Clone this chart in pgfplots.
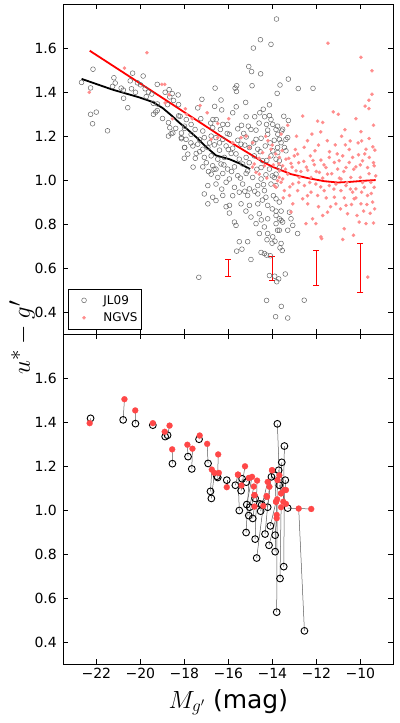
\documentclass[border=0pt]{standalone}
\usepackage{fontspec}
\setmainfont{DejaVu Sans}
\usepackage{pgfplots}
\usepackage{pgfplotstable}
\pgfplotsset{compat=1.18}

% JL09 colours (top panel)
\pgfplotstableread{
x y
-22.67 1.445
-22.15 1.505
-22.26 1.420
-22.26 1.300
-22.00 1.310
-22.17 1.257
-21.49 1.225
-21.20 1.466
-21.14 1.442
-21.26 1.427
-20.87 1.419
-20.77 1.410
-20.76 1.373
-20.57 1.330
-20.35 1.487
-20.46 1.452
-20.22 1.400
-20.40 1.416
-20.13 1.443
-19.99 1.434
-19.87 1.474
-19.78 1.416
-19.63 1.401
-19.48 1.392
-19.73 1.380
-19.23 1.436
-19.41 1.350
-19.22 1.347
-19.40 1.300
-19.30 1.310
-19.23 1.317
-18.99 1.281
-18.87 1.400
-18.76 1.344
-18.69 1.412
-18.66 1.379
-18.55 1.394
-18.49 1.363
-18.72 1.262
-18.66 1.239
-18.60 1.212
-18.72 1.201
-18.52 1.215
-18.39 1.236
-18.13 1.215
-18.13 1.189
-18.28 1.388
-18.26 1.344
-18.19 1.291
-18.26 1.293
-17.99 1.236
-17.98 1.149
-13.81 1.733
-14.54 1.639
-14.06 1.618
-14.86 1.601
-15.07 1.517
-14.94 1.494
-14.53 1.484
-15.62 1.430
-15.69 1.419
-15.63 1.404
-14.92 1.430
-16.60 1.419
-13.65 1.433
-13.78 1.395
-17.20 1.368
-16.33 1.365
-15.21 1.354
-14.13 1.343
-16.62 1.336
-15.64 1.334
-17.39 1.329
-16.30 1.320
-14.41 1.323
-15.80 1.307
-14.57 1.307
-13.48 1.291
-15.19 1.289
-14.80 1.289
-14.35 1.289
-14.13 1.294
-14.06 1.276
-16.70 1.276
-16.55 1.276
-16.25 1.254
-16.03 1.254
-15.09 1.246
-14.26 1.254
-13.98 1.254
-13.76 1.246
-15.57 1.234
-14.74 1.228
-14.21 1.228
-13.57 1.224
-17.91 1.276
-17.69 1.254
-17.51 1.231
-17.99 1.246
-17.16 1.224
-16.36 1.231
-16.05 1.213
-15.30 1.213
-16.71 1.239
-14.97 1.231
-13.83 1.231
-18.14 1.194
-17.92 1.186
-17.69 1.209
-17.31 1.186
-17.09 1.194
-16.78 1.201
-16.56 1.194
-16.25 1.186
-15.95 1.209
-15.57 1.182
-15.19 1.197
-14.74 1.186
-14.51 1.191
-14.21 1.209
-13.91 1.182
-13.68 1.186
-17.99 1.149
-17.61 1.156
-17.39 1.164
-17.16 1.141
-16.93 1.149
-16.63 1.161
-16.40 1.137
-16.10 1.156
-15.80 1.146
-15.42 1.164
-15.04 1.149
-14.66 1.141
-14.32 1.156
-13.98 1.134
-13.76 1.149
-17.84 1.119
-17.46 1.122
-17.09 1.104
-16.78 1.111
-16.48 1.096
-16.18 1.104
-15.87 1.122
-15.50 1.096
-15.19 1.104
-14.82 1.111
-14.44 1.089
-14.06 1.111
-13.83 1.096
-17.16 1.061
-16.71 1.066
-16.56 1.051
-16.33 1.074
-16.03 1.051
-15.72 1.061
-15.35 1.074
-15.12 1.043
-14.51 1.058
-14.13 1.051
-13.68 1.058
-16.78 1.028
-16.48 1.013
-16.25 1.031
-15.95 1.006
-15.57 1.021
-15.19 1.031
-14.89 1.013
-14.51 1.006
-14.29 1.025
-13.91 1.013
-16.93 0.976
-16.56 0.983
-16.10 0.991
-15.72 0.968
-15.35 0.983
-15.04 0.961
-14.66 0.976
-14.36 0.953
-14.06 0.983
-17.09 0.938
-16.71 0.923
-16.25 0.931
-15.50 0.946
-15.12 0.931
-14.66 0.938
-14.29 0.923
-13.83 0.916
-16.93 0.893
-16.56 0.908
-15.95 0.886
-15.42 0.893
-15.04 0.886
-14.66 0.893
-14.21 0.886
-13.68 0.901
-13.83 0.860
-15.95 0.851
-14.97 0.833
-14.59 0.848
-14.21 0.825
-13.83 0.840
-13.60 0.818
-15.72 0.810
-15.65 0.795
-14.74 0.803
-14.36 0.788
-13.83 0.803
-14.59 0.758
-14.21 0.758
-13.98 0.743
-13.76 0.773
-13.27 1.460
-12.82 1.417
-12.15 1.418
-13.27 1.272
-13.53 1.232
-13.75 1.209
-13.38 1.186
-13.30 1.194
-13.60 1.171
-13.75 1.126
-13.45 1.149
-13.38 1.134
-13.68 1.089
-13.83 1.028
-13.83 0.976
-13.60 0.860
-13.22 0.855
-13.68 0.825
-13.15 0.825
-13.53 0.810
-13.07 0.795
-13.68 0.773
-13.30 0.773
-12.85 0.758
-13.60 0.713
-17.34 0.559
-15.50 0.721
-15.12 0.721
-15.62 0.678
-15.38 0.687
-14.97 0.640
-14.51 0.672
-14.36 0.667
-14.26 0.660
-14.09 0.657
-14.24 0.730
-14.01 0.714
-13.88 0.723
-13.65 0.693
-13.55 0.681
-14.13 0.567
-13.89 0.564
-13.71 0.552
-13.80 0.539
-13.41 0.574
-14.26 0.454
-12.55 0.455
-13.59 0.427
-13.85 0.380
-13.30 0.374
-17.70 1.170
-17.50 1.100
-17.30 1.130
-17.00 1.080
-16.85 1.170
-16.65 1.050
-16.40 1.170
-16.20 1.070
-16.00 1.140
-15.85 1.040
-15.65 1.120
-15.45 1.010
-15.25 1.160
-15.05 1.080
-14.85 1.170
-14.70 1.050
-14.55 1.130
-14.40 0.980
-14.25 1.090
-14.10 1.170
-14.00 1.020
-13.95 0.930
-14.45 0.910
-14.80 0.950
-15.25 0.950
-15.80 0.930
-16.30 0.960
-16.90 1.040
-17.60 1.060
-18.00 1.100
-16.10 0.880
-15.20 0.860
-14.50 0.820
-14.00 0.870
-15.40 1.250
-16.80 1.260
-14.60 1.260
-17.25 1.280
}\jlnine

% NGVS colours (top panel)
\pgfplotstableread{
x y
-22.32 1.400
-20.72 1.510
-19.70 1.580
-19.02 1.436
-18.89 1.436
-18.69 1.389
-18.87 1.352
-18.54 1.280
-17.90 1.300
-17.95 1.325
-17.64 1.280
-17.28 1.340
-16.96 1.307
-16.48 1.258
-15.98 1.280
-16.78 1.186
-16.48 1.194
-15.80 1.171
-15.42 1.194
-15.19 1.201
-15.04 1.149
-14.89 1.171
-14.82 1.074
-14.59 1.028
-14.36 1.066
-14.13 1.104
-14.06 1.141
-13.91 0.976
-13.76 0.998
-13.68 1.043
-13.53 1.006
-14.44 1.126
-14.74 1.036
-13.83 0.968
-11.47 1.623
-9.97 1.559
-9.47 1.498
-9.47 1.391
-9.61 1.364
-9.78 1.337
-9.61 1.326
-11.23 1.311
-12.62 1.292
-11.94 1.269
-11.71 1.263
-9.97 1.221
-10.46 1.179
-9.94 1.179
-11.14 1.161
-10.68 1.161
-9.43 1.152
-9.34 1.137
-9.74 1.141
-12.06 1.134
-12.85 1.119
-13.00 1.111
-13.38 1.096
-13.68 1.104
-12.27 1.111
-11.41 1.104
-10.80 1.111
-10.35 1.104
-10.08 1.116
-9.59 1.104
-11.18 1.081
-10.96 1.089
-10.50 1.081
-9.90 1.089
-11.79 1.092
-12.57 1.086
-13.15 1.077
-13.53 1.066
-12.09 1.071
-11.56 1.058
-11.03 1.051
-10.65 1.058
-10.20 1.061
-9.67 1.058
-9.37 1.066
-12.92 1.043
-12.39 1.046
-11.86 1.036
-11.49 1.028
-13.30 1.028
-13.68 1.013
-12.77 1.013
-12.24 1.013
-11.71 1.010
-10.88 1.006
-10.43 1.013
-10.00 1.013
-9.52 0.991
-13.60 0.991
-13.07 0.983
-12.54 0.976
-12.02 0.983
-11.41 0.976
-11.11 0.983
-10.65 0.976
-10.20 0.961
-9.82 0.968
-9.37 0.968
-13.45 0.953
-12.85 0.953
-12.24 0.946
-11.64 0.953
-10.88 0.953
-10.35 0.946
-9.94 0.946
-13.22 0.931
-12.62 0.916
-11.94 0.931
-11.18 0.923
-10.73 0.920
-10.28 0.916
-9.67 0.931
-13.07 0.893
-12.39 0.893
-11.11 0.893
-10.65 0.886
-9.97 0.893
-9.44 0.901
-11.49 0.855
-11.71 0.840
-10.58 0.848
-10.05 0.810
-12.02 0.803
-9.74 0.803
-9.40 0.806
-10.73 0.780
-11.79 0.743
-10.80 0.731
-10.31 0.750
-9.66 0.560
-11.76 0.735
-12.47 0.803
-12.17 0.825
-13.15 0.856
-14.20 1.180
-14.00 1.160
-13.85 1.120
-13.70 1.075
-13.55 1.135
-13.40 1.050
-13.25 1.100
-13.10 1.060
-12.95 1.140
-12.80 1.080
-12.70 1.040
-12.55 1.150
-12.45 1.060
-12.30 0.990
-12.15 1.090
-12.00 1.040
-11.90 1.160
-11.80 0.970
-11.65 1.070
-11.55 0.920
-11.40 1.130
-11.30 1.030
-11.20 0.960
-11.05 1.120
-10.95 1.010
-10.85 1.200
-10.75 1.040
-10.60 0.990
-10.50 1.140
-10.40 0.890
-10.30 1.050
-10.20 0.920
-10.10 1.170
-10.00 1.070
-9.90 0.990
-9.80 1.120
-9.70 0.890
-9.60 1.030
-9.50 0.940
-9.40 1.080
-9.30 1.020
-9.35 0.870
-9.55 0.850
-9.85 0.860
-10.15 0.840
-10.45 0.960
-10.90 0.870
-11.35 0.880
-11.90 0.880
-12.40 0.930
-12.80 0.990
-13.20 0.970
-13.50 0.920
-13.95 1.070
-14.25 1.010
-14.60 1.100
-14.90 1.060
-14.30 1.200
-13.60 1.210
-12.90 1.200
-12.20 1.210
-11.50 1.180
-10.70 1.230
-9.60 1.190
-9.40 1.250
-11.00 1.300
-12.40 1.180
-10.20 1.280
-13.30 1.250
-11.80 1.220
}\ngvs

% running means
\pgfplotstableread{
x y
-22.67 1.461
-21.26 1.412
-20.05 1.377
-19.44 1.356
-18.99 1.329
-18.54 1.291
-18.23 1.262
-17.90 1.235
-17.39 1.190
-17.01 1.152
-16.56 1.113
-15.95 1.096
-15.50 1.077
-15.01 1.051
}\jlmean

\pgfplotstableread{
x y
-22.30 1.589
-19.00 1.375
-17.61 1.284
-17.01 1.245
-16.33 1.200
-15.95 1.176
-15.19 1.130
-14.44 1.084
-13.91 1.058
-13.15 1.028
-12.39 1.010
-11.64 0.996
-11.03 0.990
-10.43 0.993
-9.82 0.998
-9.30 1.001
}\ngvsmean

% matched galaxies: JL09 (xb,yb) vs NGVS (xr,yr)
\pgfplotstableread{
xb yb xr yr
-22.26 1.418 -22.30 1.396
-20.78 1.411 -20.72 1.505
-20.22 1.394 -20.23 1.454
-19.43 1.387 -19.43 1.396
-18.87 1.335 -18.89 1.357
-18.76 1.341 -18.67 1.385
-18.54 1.212 -18.55 1.277
-17.83 1.244 -17.86 1.298
-17.66 1.188 -17.63 1.280
-17.33 1.323 -17.30 1.340
-16.92 1.213 -16.96 1.302
-16.81 1.086 -16.75 1.185
-16.77 1.054 -16.63 1.170
-16.48 1.149 -16.46 1.254
-16.52 1.155 -16.43 1.170
-16.07 1.137 -16.07 1.105
-15.68 1.114 -15.56 1.162
-15.37 1.143 -15.40 1.113
-15.42 1.089 -15.24 1.200
-15.18 1.128 -15.06 1.147
-15.50 0.999 -15.56 1.162
-15.16 1.026 -14.92 1.152
-15.03 1.014 -14.84 1.108
-15.19 0.899 -15.06 1.147
-15.07 0.976 -14.81 1.069
-14.89 0.963 -14.81 1.017
-14.78 0.869 -14.69 1.135
-14.71 0.783 -14.41 1.020
-14.57 1.029 -14.26 1.065
-14.48 1.026 -14.24 1.061
-14.53 0.996 -14.21 1.129
-14.78 1.054 -14.81 1.069
-14.33 0.892 -14.13 1.107
-14.21 1.014 -14.01 1.182
-14.09 0.929 -13.83 1.039
-14.15 0.841 -13.80 0.979
-13.87 0.887 -13.80 0.964
-13.87 0.812 -13.76 1.137
-13.80 0.537 -13.78 1.050
-13.65 0.690 -13.60 1.014
-13.48 0.744 -13.45 1.092
-12.54 0.452 -12.80 1.008
-13.77 1.393 -13.68 1.159
-13.45 1.292 -13.50 1.039
-13.57 1.218 -13.60 1.077
-13.41 1.137 -13.38 1.092
-13.68 1.114 -13.38 1.029
-13.71 1.182 -13.60 1.077
-14.04 1.152 -14.01 1.182
-13.89 1.159 -13.83 1.039
-13.30 1.010 -12.23 1.006
}\pairs

\begin{document}
\begin{tikzpicture}
\pgfplotsset{
  panel/.style={
    scale only axis, width=330pt, height=330pt,
    xmin=-23.5, xmax=-8.5, ymin=0.3, ymax=1.8,
    xtick={-22,-20,-18,-16,-14,-12,-10},
    ytick={0.4,0.6,0.8,1.0,1.2,1.4,1.6},
    yticklabels={0.4,0.6,0.8,1.0,1.2,1.4,1.6},
    tick align=inside, major tick length=5pt,
    tick style={black, line width=0.6pt},
    axis line style={line width=0.8pt},
    tick label style={font=\fontsize{14}{16}\selectfont},
    yticklabel style={xshift=-3pt},
  },
  legmark/.style={legend image code/.code={
    \path (0pt,0pt) (30pt,0pt);
    \draw[##1] plot coordinates {(13pt,0pt)};}},
}

\begin{axis}[panel, at={(0,330pt)}, xticklabels={},
    legend cell align=left,
    legend style={at={(0.015,0.015)}, anchor=south west, draw=black, line width=0.8pt,
      font=\fontsize{12}{14}\selectfont, inner xsep=2pt, inner ysep=4pt, row sep=3pt},
  ]
  \addplot[only marks, mark=o, mark size=2.4pt, mark options={draw=black!60, line width=0.5pt}, legmark] table {\jlnine};
  \addlegendentry{JL09}
  \addplot[only marks, mark=*, mark size=1.7pt, mark options={draw=red!45, fill=red!45, line width=0.2pt}, legmark] table {\ngvs};
  \addlegendentry{NGVS}
  \addplot[black, line width=1.8pt, forget plot] table {\jlmean};
  \addplot[red, line width=1.8pt, forget plot] table {\ngvsmean};
  \addplot[draw=none, mark=none, forget plot,
    error bars/.cd, y dir=both, y explicit,
    error bar style={draw=red, line width=1pt},
    error mark options={draw=red, rotate=90, mark size=3pt, line width=1pt}]
    coordinates {(-16,0.602) +- (0,0.040) (-14,0.600) +- (0,0.055) (-12,0.601) +- (0,0.080) (-10,0.600) +- (0,0.111)};
\end{axis}

\begin{axis}[panel, at={(0,0)},
    xticklabels={−22,−20,−18,−16,−14,−12,−10},
    xlabel={$M_{g'}$ (mag)},
    ylabel={$u^*-g'$},
    every axis x label/.style={at={(axis description cs:0.5,0)}, anchor=center, yshift=-38pt,
      font=\fontsize{25}{30}\selectfont},
    every axis y label/.style={at={(axis description cs:-0.125,0.99)}, anchor=center, rotate=90,
      font=\fontsize{29}{34}\selectfont},
  ]
  \addplot[black!65, line width=0.5pt, mark=none,
    quiver={u=\thisrow{xr}-\thisrow{xb}, v=\thisrow{yr}-\thisrow{yb}}]
    table[x=xb, y=yb] {\pairs};
  \addplot[only marks, mark=o, mark size=3.4pt, mark options={draw=black, fill=white, line width=0.9pt}]
    table[x=xb, y=yb] {\pairs};
  \addplot[only marks, mark=*, mark size=3pt, mark options={draw=red!72, fill=red!72, line width=0.2pt}]
    table[x=xr, y=yr] {\pairs};
\end{axis}

\pgfresetboundingbox
\path[use as bounding box] (-63.3pt,-58.7pt) rectangle (335.7pt,664.3pt);
\end{tikzpicture}
\end{document}
